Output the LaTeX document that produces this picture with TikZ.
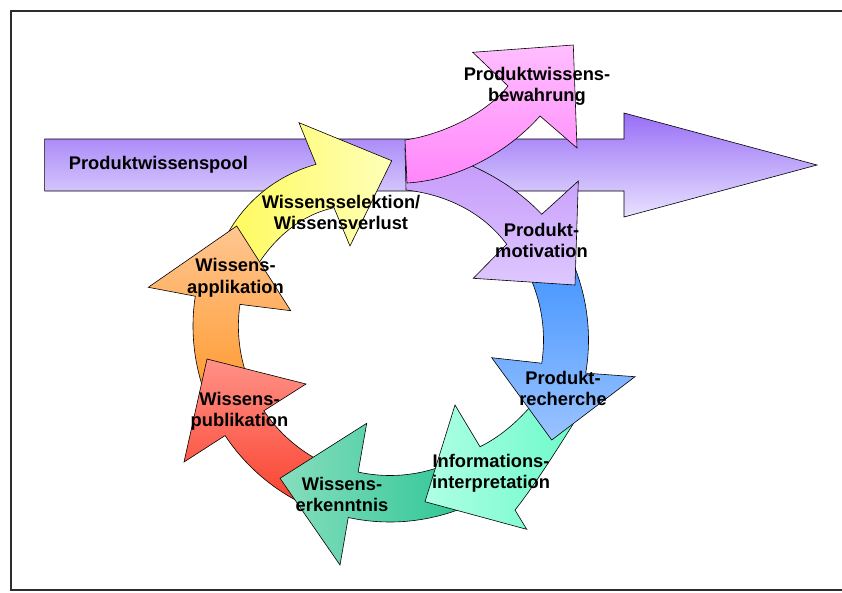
\documentclass[tikz,border=0pt]{standalone}
\usepackage{fontspec}
\setmainfont{Liberation Sans}
\usetikzlibrary{calc}

% fill colours of the arrows (light / dark end of each gradient)
\definecolor{poolTop}{RGB}{152,110,246}
\definecolor{poolBot}{RGB}{232,226,255}
\definecolor{pinkTop}{RGB}{255,190,255}
\definecolor{pinkBot}{RGB}{255,135,250}
\definecolor{motTop}{RGB}{196,150,250}
\definecolor{motBot}{RGB}{222,200,255}
\definecolor{blueTop}{RGB}{60,145,255}
\definecolor{blueBot}{RGB}{155,195,255}
\definecolor{mintL}{RGB}{175,255,228}
\definecolor{mintR}{RGB}{105,250,200}
\definecolor{greenL}{RGB}{135,222,190}
\definecolor{greenR}{RGB}{35,195,145}
\definecolor{redTop}{RGB}{255,145,135}
\definecolor{redBot}{RGB}{250,65,45}
\definecolor{orTop}{RGB}{255,198,145}
\definecolor{orBot}{RGB}{255,155,50}
\definecolor{yelL}{RGB}{255,250,85}
\definecolor{yelR}{RGB}{255,255,185}
\definecolor{frameGray}{RGB}{45,45,45}

\newcommand{\lblfont}{\bfseries\fontsize{18.3}{21.6}\selectfont}

\begin{document}
\begin{tikzpicture}[x=1pt,y=1pt,
  arrowshape/.style={draw=black,line width=0.6pt,line join=miter},
  lbl/.style={font=\lblfont,align=center,text=black,inner sep=0pt,anchor=base},
]
\useasboundingbox (0,0) rectangle (842,-592);
\fill[white] (0,0) rectangle (842,-592);

% outer frame (open on the right)
\draw[line width=2pt,draw=frameGray] (842,-11) -- (11,-11) -- (11,-590) -- (842,-590);

% centres of the cycle
\coordinate (C) at (390,-326);
\coordinate (Cb) at (390,-340);

% big horizontal arrow: Produktwissenspool
\path[arrowshape,top color=poolTop,bottom color=poolBot]
  (44.6,-139) -- (624,-139) -- (624,-113) -- (817,-165) -- (624,-217)
  -- (624,-191) -- (44.6,-191) -- cycle;

% Wissensselektion / Wissensverlust (yellow)
\path[arrowshape,left color=yelL,right color=yelR]
  (215,-262) .. controls (232,-212) and (268,-178) .. (316,-164.3)
  -- (299,-122.7) -- (391.7,-160.7) -- (350,-246) -- (334,-207.7)
  .. controls (300,-215) and (270,-240) .. (250,-278) -- cycle;

% Wissensapplikation (orange)
\path[arrowshape,top color=orTop,bottom color=orBot]
  ($(C)+(200:197)$) arc[start angle=200,end angle=171.3,radius=197pt]
  -- (148.3,-287.3) -- (236.7,-226) -- (290.7,-310.7)
  -- ($(C)+(171.8:151.6)$) arc[start angle=171.8,end angle=200,radius=151.6pt]
  -- cycle;

% Wissenspublikation (red)
\path[arrowshape,top color=redTop,bottom color=redBot]
  ($(C)+(245:198)$) arc[start angle=245,end angle=213.6,radius=198pt]
  -- (184,-462) -- (207,-359) -- (306,-384)
  -- ($(C)+(213.9:152)$) arc[start angle=213.9,end angle=245,radius=152pt]
  -- cycle;

% Wissenserkenntnis (green)
\path[arrowshape,left color=greenL,right color=greenR]
  ($(C)+(300:196)$) arc[start angle=300,end angle=257.7,radius=196pt]
  -- (340,-565) -- (280,-478.3) -- (366.7,-423.3)
  -- ($(C)+(257.7:149.5)$) arc[start angle=257.7,end angle=300,radius=149.5pt]
  -- cycle;

% Informationsinterpretation (mint)
\path[arrowshape,left color=mintL,right color=mintR]
  (540,-395) .. controls (522,-418) and (502,-436) .. (480,-446.7)
  -- (455,-405) -- (425,-501.7) -- (526.7,-529.3) -- (515,-510)
  .. controls (535,-485) and (560,-445) .. (585,-405) -- cycle;

% Produktrecherche (blue)
\path[arrowshape,top color=blueTop,bottom color=blueBot]
  ($(Cb)+(28:198.5)$) arc[start angle=28,end angle=-9.6,radius=198.5pt]
  -- (635,-376.7) -- (551.7,-440) -- (491.7,-357.7)
  -- ($(Cb)+(-8.7:153.5)$) arc[start angle=-8.7,end angle=28,radius=153.5pt]
  -- cycle;

% Produktmotivation (lilac)
\path[arrowshape,top color=motTop,bottom color=motBot]
  (405,-148) .. controls (440,-150) and (500,-170) .. (541.7,-214.3)
  -- (578.3,-181) -- (575,-285) -- (473.3,-278.3) -- (506.7,-244.3)
  .. controls (485,-215) and (450,-195) .. (406,-190) -- cycle;

% Produktwissensbewahrung (pink)
\path[arrowshape,top color=pinkTop,bottom color=pinkBot]
  (405,-140) .. controls (440,-135) and (485,-115) .. (508,-86)
  -- (472.7,-52.3) -- (573.3,-45) -- (577,-148) -- (540,-116)
  .. controls (510,-150) and (460,-180) .. (407,-183) -- cycle;

% labels (base anchor sits on the last line of a two-line label)
\node[lbl,anchor=base west] (pool) at (68.7,-169) {Produktwissenspool};
\node[lbl] (bewahrung) at (537,-101.6) {Produktwissens-\\bewahrung};
\node[lbl] (selektion) at (341,-229.6) {Wissensselektion/\\Wissensverlust};
\node[lbl] (motivation) at (541.5,-257.6) {Produkt-\\motivation};
\node[lbl] (recherche) at (563,-405.6) {Produkt-\\recherche};
\node[lbl] (interpretation) at (491,-488.9) {Informations-\\interpretation};
\node[lbl] (erkenntnis) at (342,-511.6) {Wissens-\\erkenntnis};
\node[lbl] (publikation) at (239.5,-426.6) {Wissens-\\publikation};
\node[lbl] (applikation) at (235.5,-293.3) {Wissens-\\applikation};
\end{tikzpicture}
\end{document}
